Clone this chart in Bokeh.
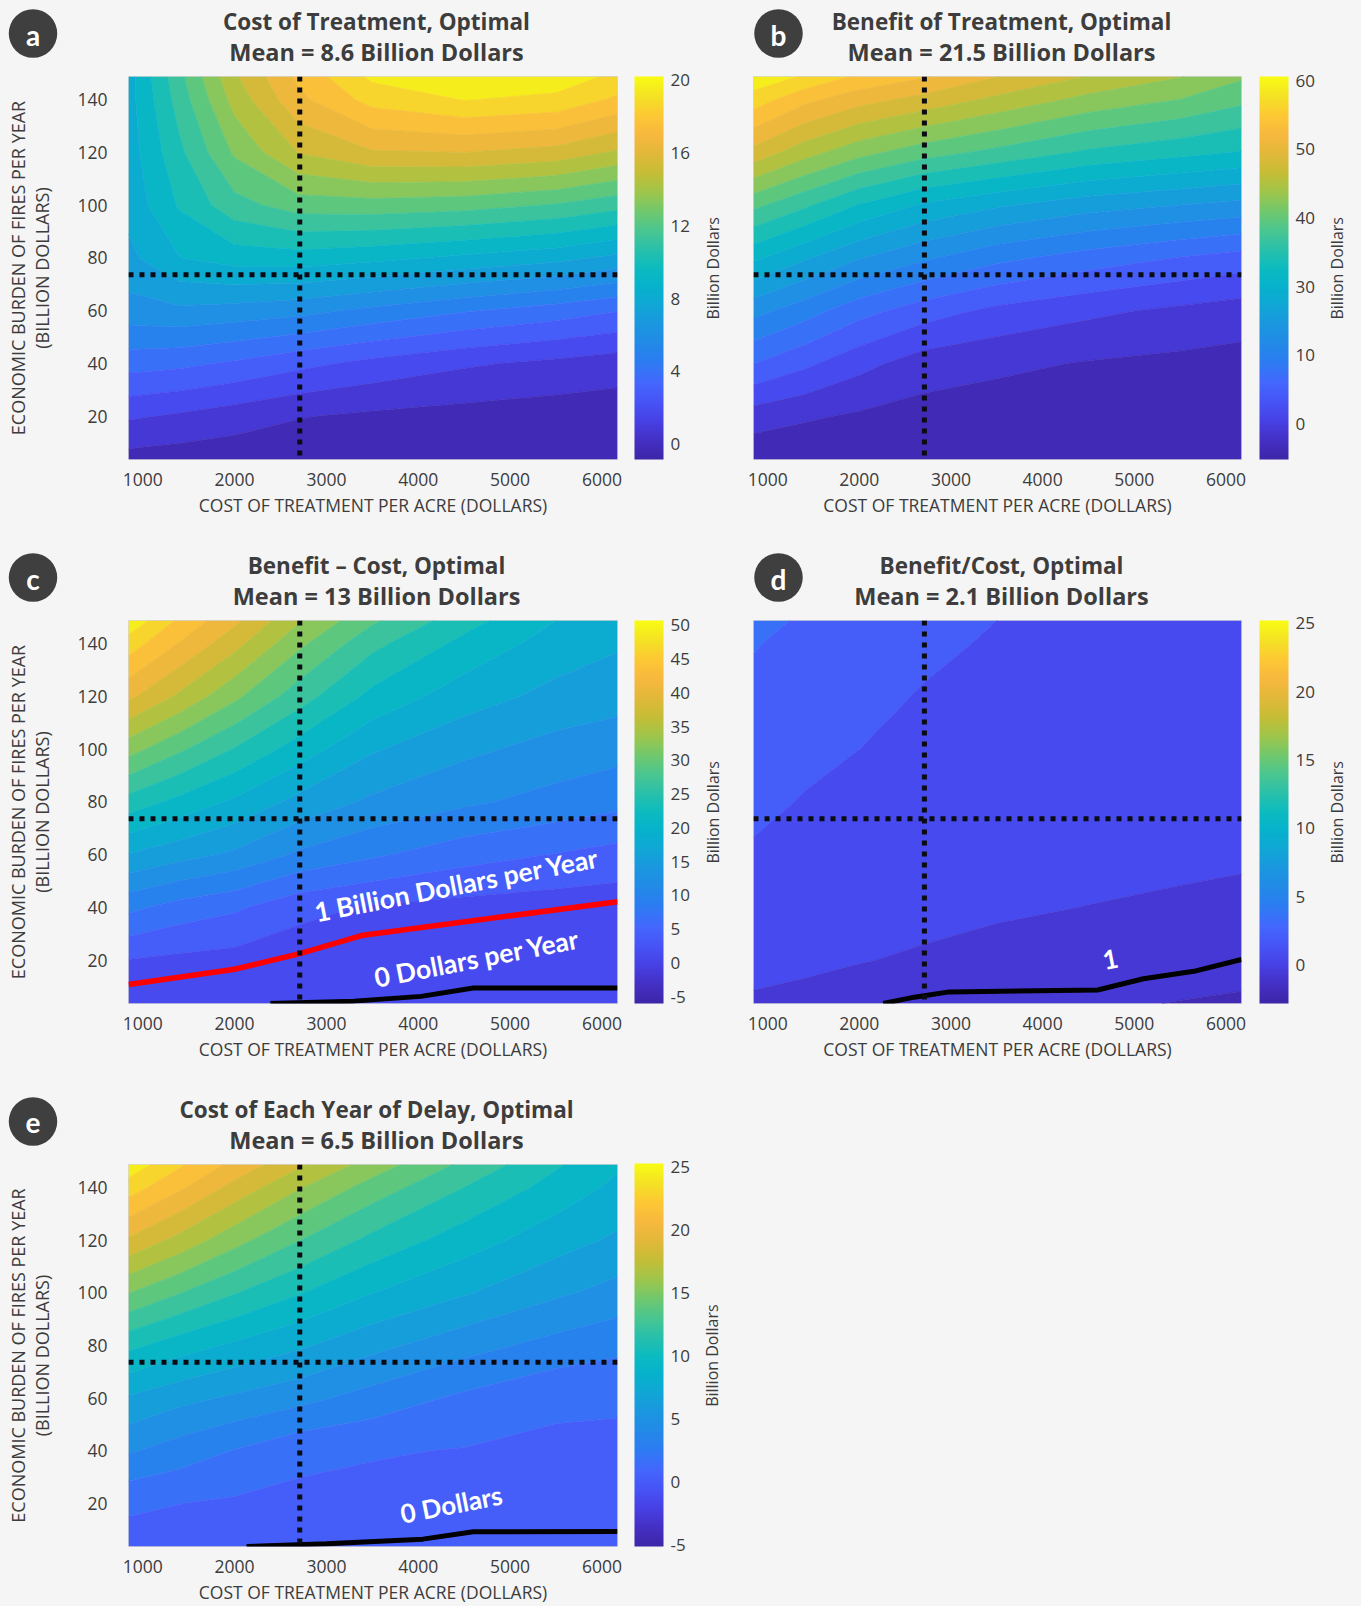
import math
import numpy as np
from bokeh.plotting import figure
from bokeh.models import Range1d, FixedTicker, LinearColorMapper, ColorBar, Span, LinearAxis
from bokeh.layouts import column, row
from bokeh.embed import file_html
from bokeh.resources import INLINE
from bokeh.core.properties import value

BG = "#f5f5f5"
TXT = "#3c3c3c"
FONT = "Open Sans"

# ---------------- data ----------------
cost = [845, 1400, 2000, 2700, 3500, 4500, 5500, 6170]          # cost of treatment per acre (dollars)
burden = [3.6, 20, 40, 60, 80, 100, 120, 140, 148.8]             # economic burden (billion dollars)
x_ticks = [1000, 2000, 3000, 4000, 5000, 6000]
y_ticks = [20, 40, 60, 80, 100, 120, 140]
ref_cost = 2710
ref_burden = 73.6

# rows follow `burden` (bottom -> top), columns follow `cost`
cost_of_treatment = [
    [-0.2, -0.35, -0.45, -0.55, -0.65, -0.75, -0.8, -0.85],
    [1.4, 1.1, 0.7, 0.25, 0.0, -0.2, -0.35, -0.4],
    [3.8, 3.6, 3.2, 2.6, 2.0, 1.4, 1.0, 0.7],
    [6.1, 6.3, 6.1, 5.8, 5.2, 4.5, 3.9, 3.4],
    [7.3, 8.6, 9.1, 9.2, 8.9, 8.4, 7.9, 7.3],
    [7.9, 9.8, 11.4, 12.3, 12.4, 12.2, 11.7, 11.1],
    [8.1, 10.5, 13.0, 15.0, 15.9, 16.0, 15.6, 14.8],
    [8.2, 11.2, 14.3, 16.8, 18.5, 19.2, 18.9, 17.9],
    [8.2, 11.5, 14.8, 17.3, 19.4, 20.1, 19.8, 18.9],
]
benefit = [
    [5.5, 5.3, 5.1, 5.0, 4.95, 4.9, 4.85, 4.85],
    [9.0, 8.0, 7.2, 6.5, 6.1, 5.8, 5.6, 5.5],
    [16.0, 13.8, 11.3, 9.0, 8.2, 7.4, 6.9, 6.6],
    [22.5, 20.0, 17.0, 14.5, 12.5, 11.0, 9.8, 9.0],
    [30.5, 27.5, 24.5, 22.0, 19.5, 17.5, 15.8, 14.8],
    [39.0, 36.0, 32.5, 29.5, 27.5, 25.5, 24.3, 23.5],
    [48.5, 45.0, 42.0, 39.5, 37.5, 35.0, 33.5, 32.5],
    [56.5, 53.0, 50.5, 48.5, 46.0, 43.0, 41.0, 39.0],
    [59.8, 57.5, 54.5, 52.5, 49.5, 46.5, 44.0, 41.5],
]
benefit_minus_cost = [
    [0.2, 0.12, 0.05, -0.01, -0.03, -0.16, -0.16, -0.17],
    [2.4, 1.85, 1.45, 0.7, 0.6, 0.43, 0.35, 0.32],
    [8.9, 7.0, 5.8, 3.4, 2.2, 1.5, 1.05, 0.9],
    [16.5, 14.9, 13.3, 10.5, 8.6, 6.5, 5.2, 4.3],
    [24.0, 21.5, 19.0, 15.8, 13.3, 11.5, 10.0, 9.0],
    [32.0, 28.5, 25.0, 21.0, 17.0, 14.5, 12.8, 12.0],
    [40.0, 36.0, 31.5, 26.5, 21.5, 18.0, 15.8, 15.0],
    [46.5, 42.0, 37.5, 31.5, 26.0, 21.5, 18.3, 17.0],
    [50.0, 44.5, 40.0, 34.0, 28.5, 23.5, 19.5, 17.8],
]
benefit_over_cost = [
    [-0.2, -0.35, -0.55, -0.75, -0.95, -1.2, -1.45, -1.6],
    [0.45, 0.25, 0.05, -0.15, -0.35, -0.55, -0.75, -0.9],
    [0.95, 0.8, 0.6, 0.35, 0.15, -0.02, -0.18, -0.3],
    [1.3, 1.15, 0.95, 0.72, 0.55, 0.38, 0.25, 0.17],
    [1.6, 1.35, 1.15, 0.95, 0.8, 0.62, 0.52, 0.48],
    [2.0, 1.6, 1.4, 1.15, 0.98, 0.8, 0.7, 0.66],
    [2.4, 1.9, 1.6, 1.35, 1.15, 0.95, 0.83, 0.78],
    [2.9, 2.3, 1.8, 1.55, 1.32, 1.1, 0.93, 0.85],
    [3.3, 2.6, 1.95, 1.6, 1.4, 1.17, 0.98, 0.9],
]
delay_cost = [
    [0.3, 0.2, 0.05, -0.03, -0.06, -0.15, -0.15, -0.12],
    [1.28, 1.0, 0.76, 0.58, 0.47, 0.33, 0.25, 0.24],
    [4.2, 3.3, 2.43, 1.4, 1.11, 0.9, 0.75, 0.7],
    [6.9, 6.0, 5.3, 4.5, 3.4, 2.2, 1.2, 1.15],
    [10.5, 9.3, 8.3, 7.3, 6.0, 4.6, 3.5, 2.9],
    [14.7, 13.2, 11.7, 10.2, 8.6, 7.2, 5.8, 5.0],
    [19.0, 17.2, 15.2, 13.2, 11.2, 9.3, 7.7, 6.8],
    [23.0, 21.0, 18.7, 16.3, 14.0, 11.6, 9.5, 8.2],
    [24.8, 22.5, 20.3, 18.0, 15.5, 12.8, 10.3, 8.8],
]

# colour bar limits, tick positions and tick texts
a_range, a_ticks, a_labels = (-0.86, 20.22), [0, 4, 8, 12, 16, 20], ["0", "4", "8", "12", "16", "20"]
b_range, b_ticks, b_labels = (4.8, 60.6), [10, 20, 30, 40, 50, 60], ["0", "10", "30", "40", "50", "60"]
c_range = (-6.0, 50.7)
c_ticks = [-5, 0, 5, 10, 15, 20, 25, 30, 35, 40, 45, 50]
c_labels = ["-5", "0", "5", "10", "15", "20", "25", "30", "35", "40", "45", "50"]
d_range, d_ticks, d_labels = (-2.8, 25.2), [0, 5, 10, 15, 20, 25], ["0", "5", "10", "15", "20", "25"]
e_range = (-5.1, 25.3)
e_ticks = [-5, 0, 5, 10, 15, 20, 25]
e_labels = ["-5", "0", "5", "10", "15", "20", "25"]

# highlighted contour lines
c_red_x = [845, 2000, 2710, 3400, 6170]
c_red_y = [10.8, 16.6, 22.5, 29.5, 42.2]
c_black_x = [2390, 3300, 4030, 4600, 6170]
c_black_y = [3.6, 4.5, 6.3, 9.5, 9.5]
d_black_x = [2260, 2600, 2980, 4600, 5100, 5650, 6170]
d_black_y = [3.6, 6.0, 8.0, 8.7, 13.0, 15.8, 20.3]
e_black_x = [2130, 3000, 4050, 4600, 6170]
e_black_y = [3.6, 4.6, 6.4, 9.2, 9.3]

# ---------------- parula-like colormap ----------------
PARULA_STOPS = [
    (0.00, "#3e26a8"), (0.05, "#4430c4"), (0.10, "#4741e5"), (0.15, "#4754f6"),
    (0.20, "#4367fd"), (0.25, "#2e7bf3"), (0.30, "#2389e8"), (0.35, "#1b96e0"),
    (0.40, "#11a6d6"), (0.45, "#06b2cc"), (0.50, "#0cbbbf"), (0.55, "#2ac0aa"),
    (0.60, "#4bc68f"), (0.65, "#72c86c"), (0.70, "#a0c54a"), (0.75, "#c6bd36"),
    (0.80, "#e2b83a"), (0.85, "#f8b83e"), (0.90, "#fdc834"), (0.95, "#f4e224"),
    (1.00, "#f9fb14"),
]


def _rgb(h):
    return tuple(int(h[i:i + 2], 16) for i in (1, 3, 5))


def parula(t):
    t = min(max(t, 0.0), 1.0)
    for (t0, c0), (t1, c1) in zip(PARULA_STOPS[:-1], PARULA_STOPS[1:]):
        if t <= t1:
            f = (t - t0) / (t1 - t0)
            a, b = _rgb(c0), _rgb(c1)
            return "#%02x%02x%02x" % tuple(int(round(a[k] + f * (b[k] - a[k]))) for k in range(3))
    return PARULA_STOPS[-1][1]


PAL = [parula(i / 255) for i in range(256)]

FW, FH = 496, 383
HDR = 67          # header strip height (titles + badge)
BT = 9            # top border of each panel (room for the top colour-bar label)
NB = 20
LEFT_W, RIGHT_W = 737, 624
LEFT_BL, RIGHT_BL = 128, 16


def header(left_col, letter, t1, t2):
    W = LEFT_W if left_col else RIGHT_W
    bl = LEFT_BL if left_col else RIGHT_BL
    bx = 32.5 if left_col else 41
    cx = bl + FW / 2
    h = figure(width=W, height=HDR, x_range=Range1d(0, W), y_range=Range1d(HDR, 0),
               x_axis_type=None, y_axis_type=None, output_backend="svg", toolbar_location=None,
               min_border_left=0, min_border_right=0, min_border_top=0, min_border_bottom=0,
               background_fill_color=BG, border_fill_color=BG, outline_line_color=None)
    h.grid.visible = False
    h.scatter([bx], [33], marker="circle", size=48.5, fill_color="#3f3f3f", line_color=None)
    h.text([bx], [34], text=[letter], text_align="center", text_baseline="middle",
           text_color="white", text_font=value("Lato"), text_font_style="bold",
           text_font_size="28px")
    h.text([cx], [20.5], text=[t1], text_align="center", text_baseline="middle",
           text_color="#3d3d3d", text_font=value(FONT), text_font_style="bold",
           text_font_size="22.5px")
    h.text([cx], [51], text=[t2], text_align="center", text_baseline="middle",
           text_color="#3d3d3d", text_font=value(FONT), text_font_style="bold",
           text_font_size="23.5px")
    return h


def build(z, rng, cbt, cbl, left_col, bb):
    lo, hi = rng
    W = LEFT_W if left_col else RIGHT_W
    bl = LEFT_BL if left_col else RIGHT_BL
    br = W - bl - FW
    H = BT + FH + bb
    p = figure(width=W, height=H,
               x_range=Range1d(cost[0], cost[-1]), y_range=Range1d(burden[0], burden[-1]),
               output_backend="svg", toolbar_location=None,
               min_border_left=bl, min_border_right=br, min_border_top=BT, min_border_bottom=bb,
               background_fill_color=BG, border_fill_color=BG, outline_line_color="#d4d4d4")
    p.grid.visible = False

    levels = list(np.linspace(lo, hi, NB + 1))
    fills = [parula((i + 0.5) / NB) for i in range(NB)]
    lcols = [fills[max(i - 1, 0)] for i in range(NB + 1)]
    p.contour(cost, burden, np.array(z, dtype=float), levels,
              fill_color=fills, line_color=lcols, line_width=0.8)

    for loc, dim in ((ref_cost, "height"), (ref_burden, "width")):
        p.add_layout(Span(location=loc, dimension=dim, line_color="#0b0b14",
                          line_width=5, line_dash="5 6"))

    xa = p.xaxis[0]
    xa.ticker = FixedTicker(ticks=x_ticks)
    xa.axis_line_color = None
    xa.major_tick_line_color = None
    xa.minor_tick_line_color = None
    xa.major_label_text_font = FONT
    xa.major_label_text_font_size = "17.5px"
    xa.major_label_text_color = TXT
    xa.major_label_standoff = 7
    xa.axis_label = "COST OF TREATMENT PER ACRE (DOLLARS)"
    xa.axis_label_text_font = FONT
    xa.axis_label_text_font_style = "normal"
    xa.axis_label_text_font_size = "17.5px"
    xa.axis_label_text_color = TXT
    xa.axis_label_standoff = 4

    ya = p.yaxis[0]
    if left_col:
        ya.ticker = FixedTicker(ticks=y_ticks)
        ya.axis_line_color = None
        ya.major_tick_line_color = None
        ya.minor_tick_line_color = None
        ya.major_label_text_font = FONT
        ya.major_label_text_font_size = "17.5px"
        ya.major_label_text_color = TXT
        ya.major_label_standoff = 15
        ya.axis_label = "ECONOMIC BURDEN OF FIRES PER YEAR\n(BILLION DOLLARS)"
        ya.axis_label_text_font = FONT
        ya.axis_label_text_font_style = "normal"
        ya.axis_label_text_font_size = "18px"
        ya.axis_label_text_color = TXT
        ya.axis_label_text_line_height = 1.0
        ya.axis_label_standoff = 20
    else:
        ya.visible = False

    mapper = LinearColorMapper(palette=PAL, low=lo, high=hi)
    cb = ColorBar(color_mapper=mapper, location=(506, 0), orientation="vertical",
                  width=29, height=FH, padding=0, margin=0,
                  ticker=FixedTicker(ticks=cbt),
                  major_label_overrides={t: l for t, l in zip(cbt, cbl)},
                  major_label_text_font=FONT, major_label_text_font_size="17px",
                  major_label_text_color=TXT, label_standoff=7,
                  major_tick_line_color=None, minor_tick_line_color=None,
                  bar_line_color=None, background_fill_alpha=0, border_line_color=None)
    p.add_layout(cb)

    # side axis that carries the colour-bar title (range in pixels of the frame height)
    p.extra_y_ranges = {"cbtitle": Range1d(0, FH)}
    tax = LinearAxis(y_range_name="cbtitle", ticker=FixedTicker(ticks=[140]),
                     major_label_overrides={140: "Billion Dollars"},
                     major_label_orientation=math.pi / 2,
                     major_label_standoff=89,
                     major_label_text_font=FONT, major_label_text_font_size="16px",
                     major_label_text_color=TXT,
                     axis_line_color=None, major_tick_line_color=None, minor_tick_line_color=None)
    p.add_layout(tax, "right")
    return p


def note(p, x, y, text, size="26.5px", angle=11):
    p.text([x], [y], text=[text], text_font=value("Lato"), text_font_style="bold",
           text_font_size=size, text_color="white", text_align="center",
           text_baseline="middle", angle=math.radians(angle))


ha = header(True, "a", "Cost of Treatment, Optimal", "Mean = 8.6 Billion Dollars")
hb = header(False, "b", "Benefit of Treatment, Optimal", "Mean = 21.5 Billion Dollars")
hc = header(True, "c", "Benefit \u2013 Cost, Optimal", "Mean = 13 Billion Dollars")
hd = header(False, "d", "Benefit/Cost, Optimal", "Mean = 2.1 Billion Dollars")
he = header(True, "e", "Cost of Each Year of Delay, Optimal", "Mean = 6.5 Billion Dollars")

pa = build(cost_of_treatment, a_range, a_ticks, a_labels, True, 85)
pb = build(benefit, b_range, b_ticks, b_labels, False, 85)
pc = build(benefit_minus_cost, c_range, c_ticks, c_labels, True, 85)
pd = build(benefit_over_cost, d_range, d_ticks, d_labels, False, 85)
pe = build(delay_cost, e_range, e_ticks, e_labels, True, 59)

pc.line(c_red_x, c_red_y, line_color="#ff0000", line_width=5.5)
pc.line(c_black_x, c_black_y, line_color="#000000", line_width=5)
note(pc, 4420, 48.6, "1 Billion Dollars per Year")
note(pc, 4640, 20.8, "0 Dollars per Year")

pd.line(d_black_x, d_black_y, line_color="#000000", line_width=5)
note(pd, 4740, 20.4, "1", size="26px")

pe.line(e_black_x, e_black_y, line_color="#000000", line_width=5)
note(pe, 4360, 19.7, "0 Dollars", size="26px")

layout = column(row(ha, hb), row(pa, pb), row(hc, hd), row(pc, pd), row(he), row(pe))

html = file_html(layout, INLINE, title="Optimal treatment economics")
html = html.replace("</head>", "<style>html, body {background-color: %s;}</style></head>" % BG, 1)
open("out.html", "w").write(html)
